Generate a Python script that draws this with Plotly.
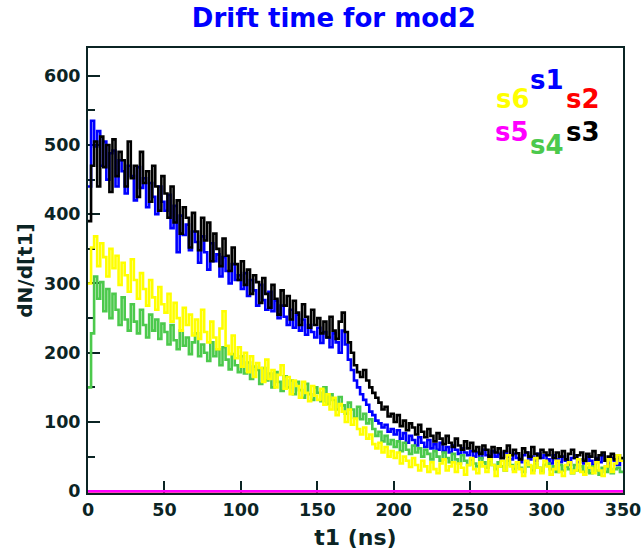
import plotly.graph_objects as go

# bin left edges of the t1 histogram (ns), 2 ns bins
t1_edges = list(range(0, 350, 2))

s1 = [440, 535, 498, 520, 470, 505, 450, 488, 492, 440, 478, 462, 430, 470, 455, 420, 468, 438, 452, 410, 445, 425, 400, 440, 418,
      405, 428, 380, 412, 345, 398, 370, 385, 348, 375, 360, 330, 368, 345, 320, 358, 332, 342, 310, 338, 318, 300, 328, 305, 312,
      292, 315, 282, 305, 290, 268, 298, 276, 262, 288, 260, 275, 250, 268, 252, 240, 262, 236, 255, 232, 248, 226, 240, 230, 222,
      236, 214, 230, 222, 208, 228, 215, 200, 232, 212, 190, 175, 160, 150, 140, 132, 125, 115, 110, 102, 98, 92, 96, 86, 90,
      82, 88, 76, 84, 70, 80, 74, 66, 78, 70, 64, 74, 62, 68, 60, 70, 58, 64, 56, 66, 60, 54, 62, 56, 52,
      58, 50, 56, 48, 60, 52, 46, 58, 50, 54, 44, 56, 50, 46, 54, 48, 42, 52, 56, 46, 50, 44, 54, 48, 52,
      46, 40, 52, 46, 42, 50, 44, 38, 48, 52, 42, 46, 40, 50, 44, 38, 48, 42, 52, 44, 40, 48, 44, 38, 46]

s2 = [0] * 175

s3 = [390, 470, 505, 440, 512, 468, 500, 432, 508, 455, 490, 478, 440, 505, 452, 470, 425, 490, 445, 462, 418, 470, 440, 405, 455,
      430, 395, 440, 388, 420, 372, 410, 395, 352, 402, 375, 348, 395, 362, 388, 332, 372, 350, 325, 365, 340, 318, 352, 328, 305,
      332, 298, 320, 285, 312, 302, 272, 308, 285, 265, 298, 278, 255, 290, 268, 282, 248, 275, 258, 240, 270, 252, 236, 262, 240,
      250, 228, 245, 222, 252, 232, 220, 245, 258, 230, 215, 200, 182, 172, 165, 175, 160, 150, 142, 135, 128, 118, 122, 108, 112,
      100, 110, 94, 102, 88, 98, 92, 82, 96, 86, 78, 90, 80, 72, 84, 76, 68, 80, 70, 64, 76, 66, 60, 72, 62,
      70, 58, 64, 54, 66, 60, 50, 64, 56, 62, 48, 58, 66, 52, 60, 55, 46, 62, 56, 50, 64, 54, 48, 60, 56,
      52, 60, 48, 56, 50, 58, 46, 54, 60, 48, 52, 56, 44, 54, 50, 58, 46, 52, 56, 44, 50, 54, 46, 52, 48]

s4 = [150, 228, 310, 278, 302, 260, 292, 250, 285, 262, 240, 280, 248, 232, 270, 245, 228, 262, 240, 222, 255, 232, 248, 220, 242,
      230, 212, 240, 218, 205, 232, 210, 222, 198, 215, 228, 195, 212, 200, 188, 215, 195, 205, 182, 208, 190, 176, 198, 182, 172,
      195, 170, 186, 162, 180, 175, 155, 178, 160, 170, 150, 172, 158, 145, 166, 150, 160, 140, 158, 146, 135, 155, 140, 132, 150,
      142, 130, 150, 126, 140, 132, 118, 136, 124, 112, 128, 118, 106, 122, 104, 112, 98, 104, 90, 80, 86, 72, 80, 68, 74,
      64, 72, 58, 70, 60, 54, 66, 56, 62, 50, 60, 54, 46, 58, 50, 44, 56, 48, 42, 54, 46, 40, 52, 44, 38,
      46, 40, 36, 48, 42, 34, 44, 38, 32, 42, 36, 30, 44, 38, 32, 40, 34, 28, 42, 36, 30, 40, 34, 28, 38,
      40, 32, 36, 28, 38, 30, 36, 32, 26, 38, 30, 36, 28, 34, 26, 36, 30, 24, 34, 28, 36, 26, 32, 34, 28]

s5 = [0] * 175

s6 = [300, 352, 368, 325, 358, 338, 310, 350, 322, 340, 298, 330, 312, 288, 335, 305, 278, 315, 292, 268, 305, 280, 262, 295, 270,
      258, 285, 245, 272, 250, 232, 265, 240, 255, 225, 248, 220, 262, 230, 215, 245, 222, 205, 235, 260, 210, 198, 225, 192, 208,
      180, 200, 172, 195, 165, 185, 178, 158, 190, 162, 175, 150, 168, 182, 148, 165, 140, 160, 152, 135, 158, 142, 130, 152, 138,
      132, 148, 125, 140, 118, 135, 110, 126, 115, 100, 118, 96, 105, 90, 82, 92, 76, 82, 68, 62, 70, 56, 64, 50, 58,
      48, 56, 40, 50, 44, 35, 48, 38, 30, 44, 36, 28, 42, 32, 26, 40, 46, 30, 36, 42, 28, 40, 34, 24, 38,
      48, 32, 26, 42, 36, 28, 46, 38, 22, 36, 44, 30, 52, 36, 28, 42, 32, 22, 44, 38, 26, 48, 34, 26, 44,
      36, 24, 32, 44, 28, 22, 38, 42, 26, 30, 46, 28, 24, 40, 34, 26, 42, 30, 22, 36, 46, 28, 40, 52, 44]

series_names = ["s1", "s2", "s3", "s4", "s5", "s6"]
series_values = [s1, s2, s3, s4, s5, s6]
series_colors = ["#0000ff", "#ff0000", "#000000", "#4cc94c", "#ff00ff", "#ffff00"]
for v in series_values:
    assert len(v) == len(t1_edges)

x_ticks = [0, 50, 100, 150, 200, 250, 300, 350]
y_ticks = [0, 100, 200, 300, 400, 500, 600]

FONT = "DejaVu Sans"
AXC = "#0b2424"

# histogram upper edge
x_last = t1_edges[-1] + (t1_edges[1] - t1_edges[0])

fig = go.Figure()
for name, vals, col in zip(series_names, series_values, series_colors):
    fig.add_trace(go.Scatter(
        x=t1_edges + [x_last], y=vals + [vals[-1]],
        mode="lines", line=dict(color=col, width=2.6, shape="hv"),
        name=name, showlegend=False, hoverinfo="skip"))

# legend labels as coloured text (ROOT-like)
label_pos = {"s1": (0.858, 0.928), "s2": (0.925, 0.886), "s3": (0.925, 0.812),
             "s4": (0.858, 0.781), "s5": (0.792, 0.812), "s6": (0.794, 0.886)}
for name, col in zip(series_names, series_colors):
    px_, py_ = label_pos[name]
    fig.add_annotation(text=name, x=px_, y=py_, xref="paper", yref="paper",
                       showarrow=False, xanchor="center", yanchor="middle",
                       font=dict(family=FONT, size=26, color=col, weight="bold"))

axis_common = dict(
    showgrid=False, zeroline=False, showline=True, mirror=True, automargin=False,
    linecolor=AXC, linewidth=2, layer="below traces",
    ticks="inside", ticklen=12, tickwidth=2, tickcolor=AXC,
    tickfont=dict(family=FONT, size=17.5, color=AXC, weight="bold"),
)

fig.update_layout(
    width=642, height=550,
    margin=dict(l=88, r=19, t=48, b=57),
    paper_bgcolor="white", plot_bgcolor="white",
    title=dict(text="Drift time for mod2", x=0.52, xanchor="center", y=0.967, yanchor="middle",
               automargin=False,
               font=dict(family=FONT, size=26, color="#0000ff", weight="bold")),
    xaxis=dict(range=[0, 350], tickvals=x_ticks, ticklabelstandoff=0, ticklabeloverflow="allow",
               title=dict(text="t1 (ns)", standoff=13,
                          font=dict(family=FONT, size=22, color=AXC, weight="bold")),
               **axis_common),
    yaxis=dict(range=[-2.5, 640], tickvals=y_ticks, ticklabelstandoff=2,
               minor=dict(dtick=50, ticks="inside", ticklen=7, tickwidth=2, tickcolor=AXC),
               title=dict(text="dN/d[t1]", standoff=6,
                          font=dict(family=FONT, size=20, color=AXC, weight="bold")),
               **axis_common),
)

fig.write_html("out.html")
